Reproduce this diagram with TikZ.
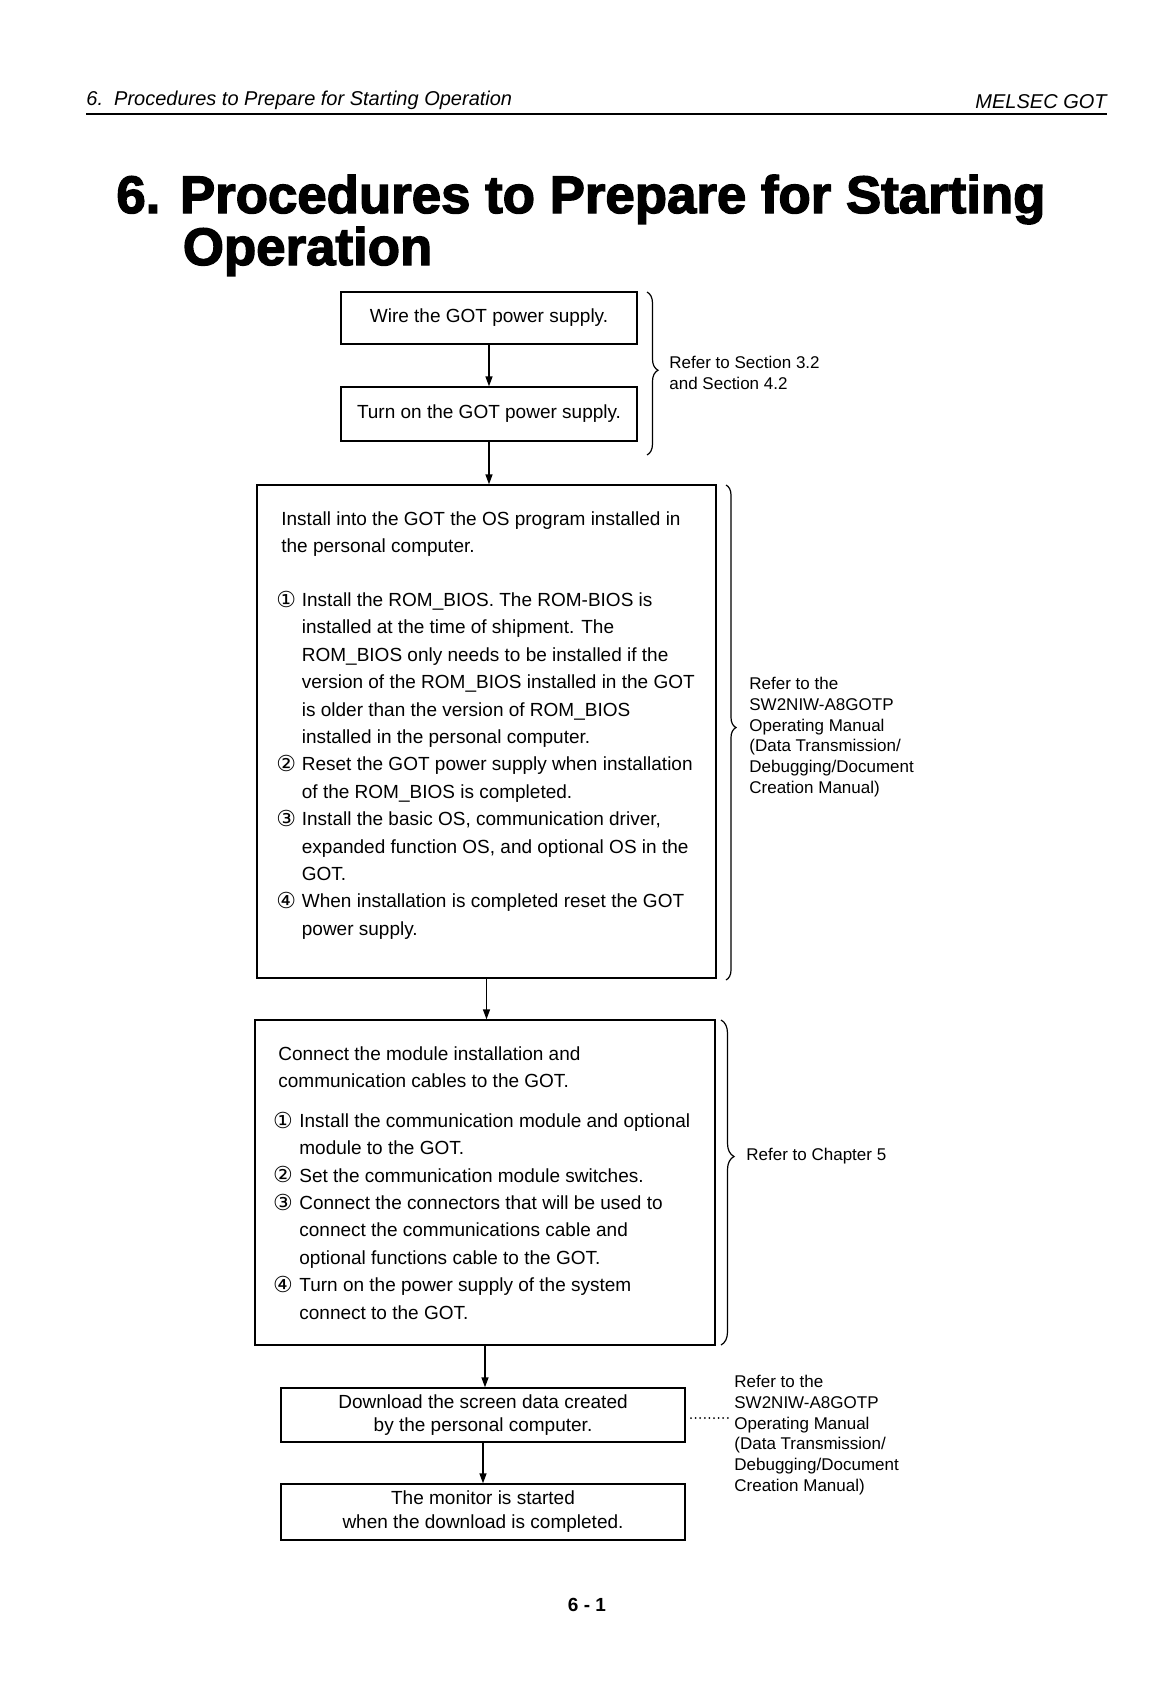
\documentclass[tikz,border=0pt]{standalone}
\usepackage{fontspec}
\setmainfont{Liberation Sans}
\newfontfamily\dejavu{DejaVu Sans}
\newfontfamily\titlefont{Liberation Sans}[BoldFeatures={FakeBold=2.6}]
\usetikzlibrary{arrows.meta,decorations.pathreplacing}
\newcommand{\boxfont}{\fontsize{9.5pt}{13.7pt}\selectfont}
\newcommand{\reffont}{\fontsize{8.5pt}{10.35pt}\selectfont}
\newcommand{\circnum}[1]{\raisebox{-0.4pt}{\dejavu\fontsize{11pt}{13.7pt}\selectfont #1}}
\newcommand{\cA}{\makebox[12.75pt][l]{\circnum{①}}}
\newcommand{\cB}{\makebox[12.75pt][l]{\circnum{②}}}
\newcommand{\cC}{\makebox[12.75pt][l]{\circnum{③}}}
\newcommand{\cD}{\makebox[12.75pt][l]{\circnum{④}}}
\newcommand{\dA}{\makebox[13.2pt][l]{\circnum{①}}}
\newcommand{\dB}{\makebox[13.2pt][l]{\circnum{②}}}
\newcommand{\dC}{\makebox[13.2pt][l]{\circnum{③}}}
\newcommand{\dD}{\makebox[13.2pt][l]{\circnum{④}}}
\begin{document}
\begin{tikzpicture}[x=0.5pt,y=-0.5pt,
  box/.style={draw, line width=0.7pt, inner sep=0pt, font=\boxfont, align=center},
  arr/.style={line width=0.7pt, -{Triangle[length=5pt,width=3.5pt]}},
  brc/.style={decorate, line width=0.6pt},
  reftext/.style={align=left, font=\reffont, inner sep=0pt, anchor=west},
  body/.style={anchor=base west, inner sep=0pt, font=\boxfont}]
\useasboundingbox[fill=white] (0,0) rectangle (1160,1682);

% header
\node[anchor=base west, inner sep=0pt, font=\fontsize{10pt}{12pt}\selectfont\itshape] (hdrL) at (86,105) {6.\ \ Procedures to Prepare for Starting Operation};
\node[anchor=base east, inner sep=0pt, font=\fontsize{10pt}{12pt}\selectfont\itshape] (hdrR) at (1107,108) {MELSEC GOT};
\draw[line width=1.4pt] (86,114) -- (1107,114);

% title
\node[anchor=base west, inner sep=0pt, font=\fontsize{26.4pt}{30pt}\titlefont\bfseries] (title1) at (116,213) {6. Procedures to Prepare for Starting};
\node[anchor=base west, inner sep=0pt, font=\fontsize{26.4pt}{30pt}\titlefont\bfseries] (title2) at (182.5,265) {Operation};

% boxes
\node[box, minimum width=148pt, minimum height=26pt] (b1) at (489,318) {Wire the GOT power supply.};
\node[box, minimum width=148pt, minimum height=27pt] (b2) at (489,414) {Turn on the GOT power supply.};
\node[box, minimum width=229.5pt, minimum height=246.5pt] (b3) at (486.5,731.5) {};
\node[box, minimum width=230pt, minimum height=162.5pt] (b4) at (485,1182.5) {};
\node[box, minimum width=202pt, minimum height=27pt, font=\fontsize{9.5pt}{11.3pt}\selectfont] (b5) at (483,1415) {Download the screen data created\\by the personal computer.};
\node[box, minimum width=202pt, minimum height=28pt, font=\fontsize{9.5pt}{12pt}\selectfont] (b6) at (483,1512) {The monitor is started\\when the download is completed.};

% box 3 text
\node[body] (t3) at (276,525) {\begin{tabular}[t]{@{}l@{}l@{}}
\multicolumn{2}{@{\hspace{2.5pt}}l@{}}{Install into the GOT the OS program installed in}\\
\multicolumn{2}{@{\hspace{2.5pt}}l@{}}{the personal computer.}\\[13.3pt]
\cA & Install the ROM\_BIOS. The ROM-BIOS is\\
 & installed at the time of shipment. The\\
 & ROM\_BIOS only needs to be installed if the\\
 & version of the ROM\_BIOS installed in the GOT\\
 & is older than the version of ROM\_BIOS\\
 & installed in the personal computer.\\
\cB & Reset the GOT power supply when installation\\
 & of the ROM\_BIOS is completed.\\
\cC & Install the basic OS, communication driver,\\
 & expanded function OS, and optional OS in the\\
 & GOT.\\
\cD & When installation is completed reset the GOT\\
 & power supply.
\end{tabular}};

% box 4 text
\node[body] (t4) at (272.6,1060.5) {\begin{tabular}[t]{@{}l@{}l@{}}
\multicolumn{2}{@{\hspace{2.7pt}}l@{}}{Connect the module installation and}\\
\multicolumn{2}{@{\hspace{2.7pt}}l@{}}{communication cables to the GOT.}\\[6pt]
\dA & Install the communication module and optional\\
 & module to the GOT.\\
\dB & Set the communication module switches.\\
\dC & Connect the connectors that will be used to\\
 & connect the communications cable and\\
 & optional functions cable to the GOT.\\
\dD & Turn on the power supply of the system\\
 & connect to the GOT.
\end{tabular}};

% arrows
\draw[arr] (b1.south) -- (b2.north);
\draw[arr] (b2.south) -- (b2.south |- b3.north);
\draw[arr] (b3.south) -- (b3.south |- b4.north);
\draw[arr] (b4.south) -- (b4.south |- b5.north);
\draw[arr] (b5.south) -- (b5.south |- b6.north);

% braces
\coordinate (br1t) at (647,292);
\coordinate (br1b) at (647,455);
\draw[brc, decoration={brace, amplitude=5.5pt, aspect=0.48}] (br1t) -- (br1b);
\coordinate (br3t) at (726,485);
\coordinate (br3b) at (726,980);
\draw[brc, decoration={brace, amplitude=5pt, aspect=0.49}] (br3t) -- (br3b);
\coordinate (br4t) at (721,1020);
\coordinate (br4b) at (721,1345);
\draw[brc, decoration={brace, amplitude=6.5pt, aspect=0.42}] (br4t) -- (br4b);

% reference texts
\node[reftext] (r1) at (669,373) {Refer to Section 3.2\\and Section 4.2};
\node[reftext] (r3) at (749,737) {Refer to the\\SW2NIW-A8GOTP\\Operating Manual\\(Data Transmission/\\Debugging/Document\\Creation Manual)};
\node[reftext] (r4) at (746,1156) {Refer to Chapter 5};
\node[reftext] (r5) at (734,1435) {Refer to the\\SW2NIW-A8GOTP\\Operating Manual\\(Data Transmission/\\Debugging/Document\\Creation Manual)};

% dotted leader
\coordinate (dotS) at (691,1418);
\coordinate (dotE) at (728,1418);
\draw[line width=1pt, line cap=round, dash pattern=on 0pt off 2.3pt] (dotS) -- (dotE);

% page number
\node[anchor=base, inner sep=0pt, font=\fontsize{9.5pt}{11pt}\selectfont\bfseries] (pg) at (587,1611) {6 - 1};
\end{tikzpicture}
\end{document}
